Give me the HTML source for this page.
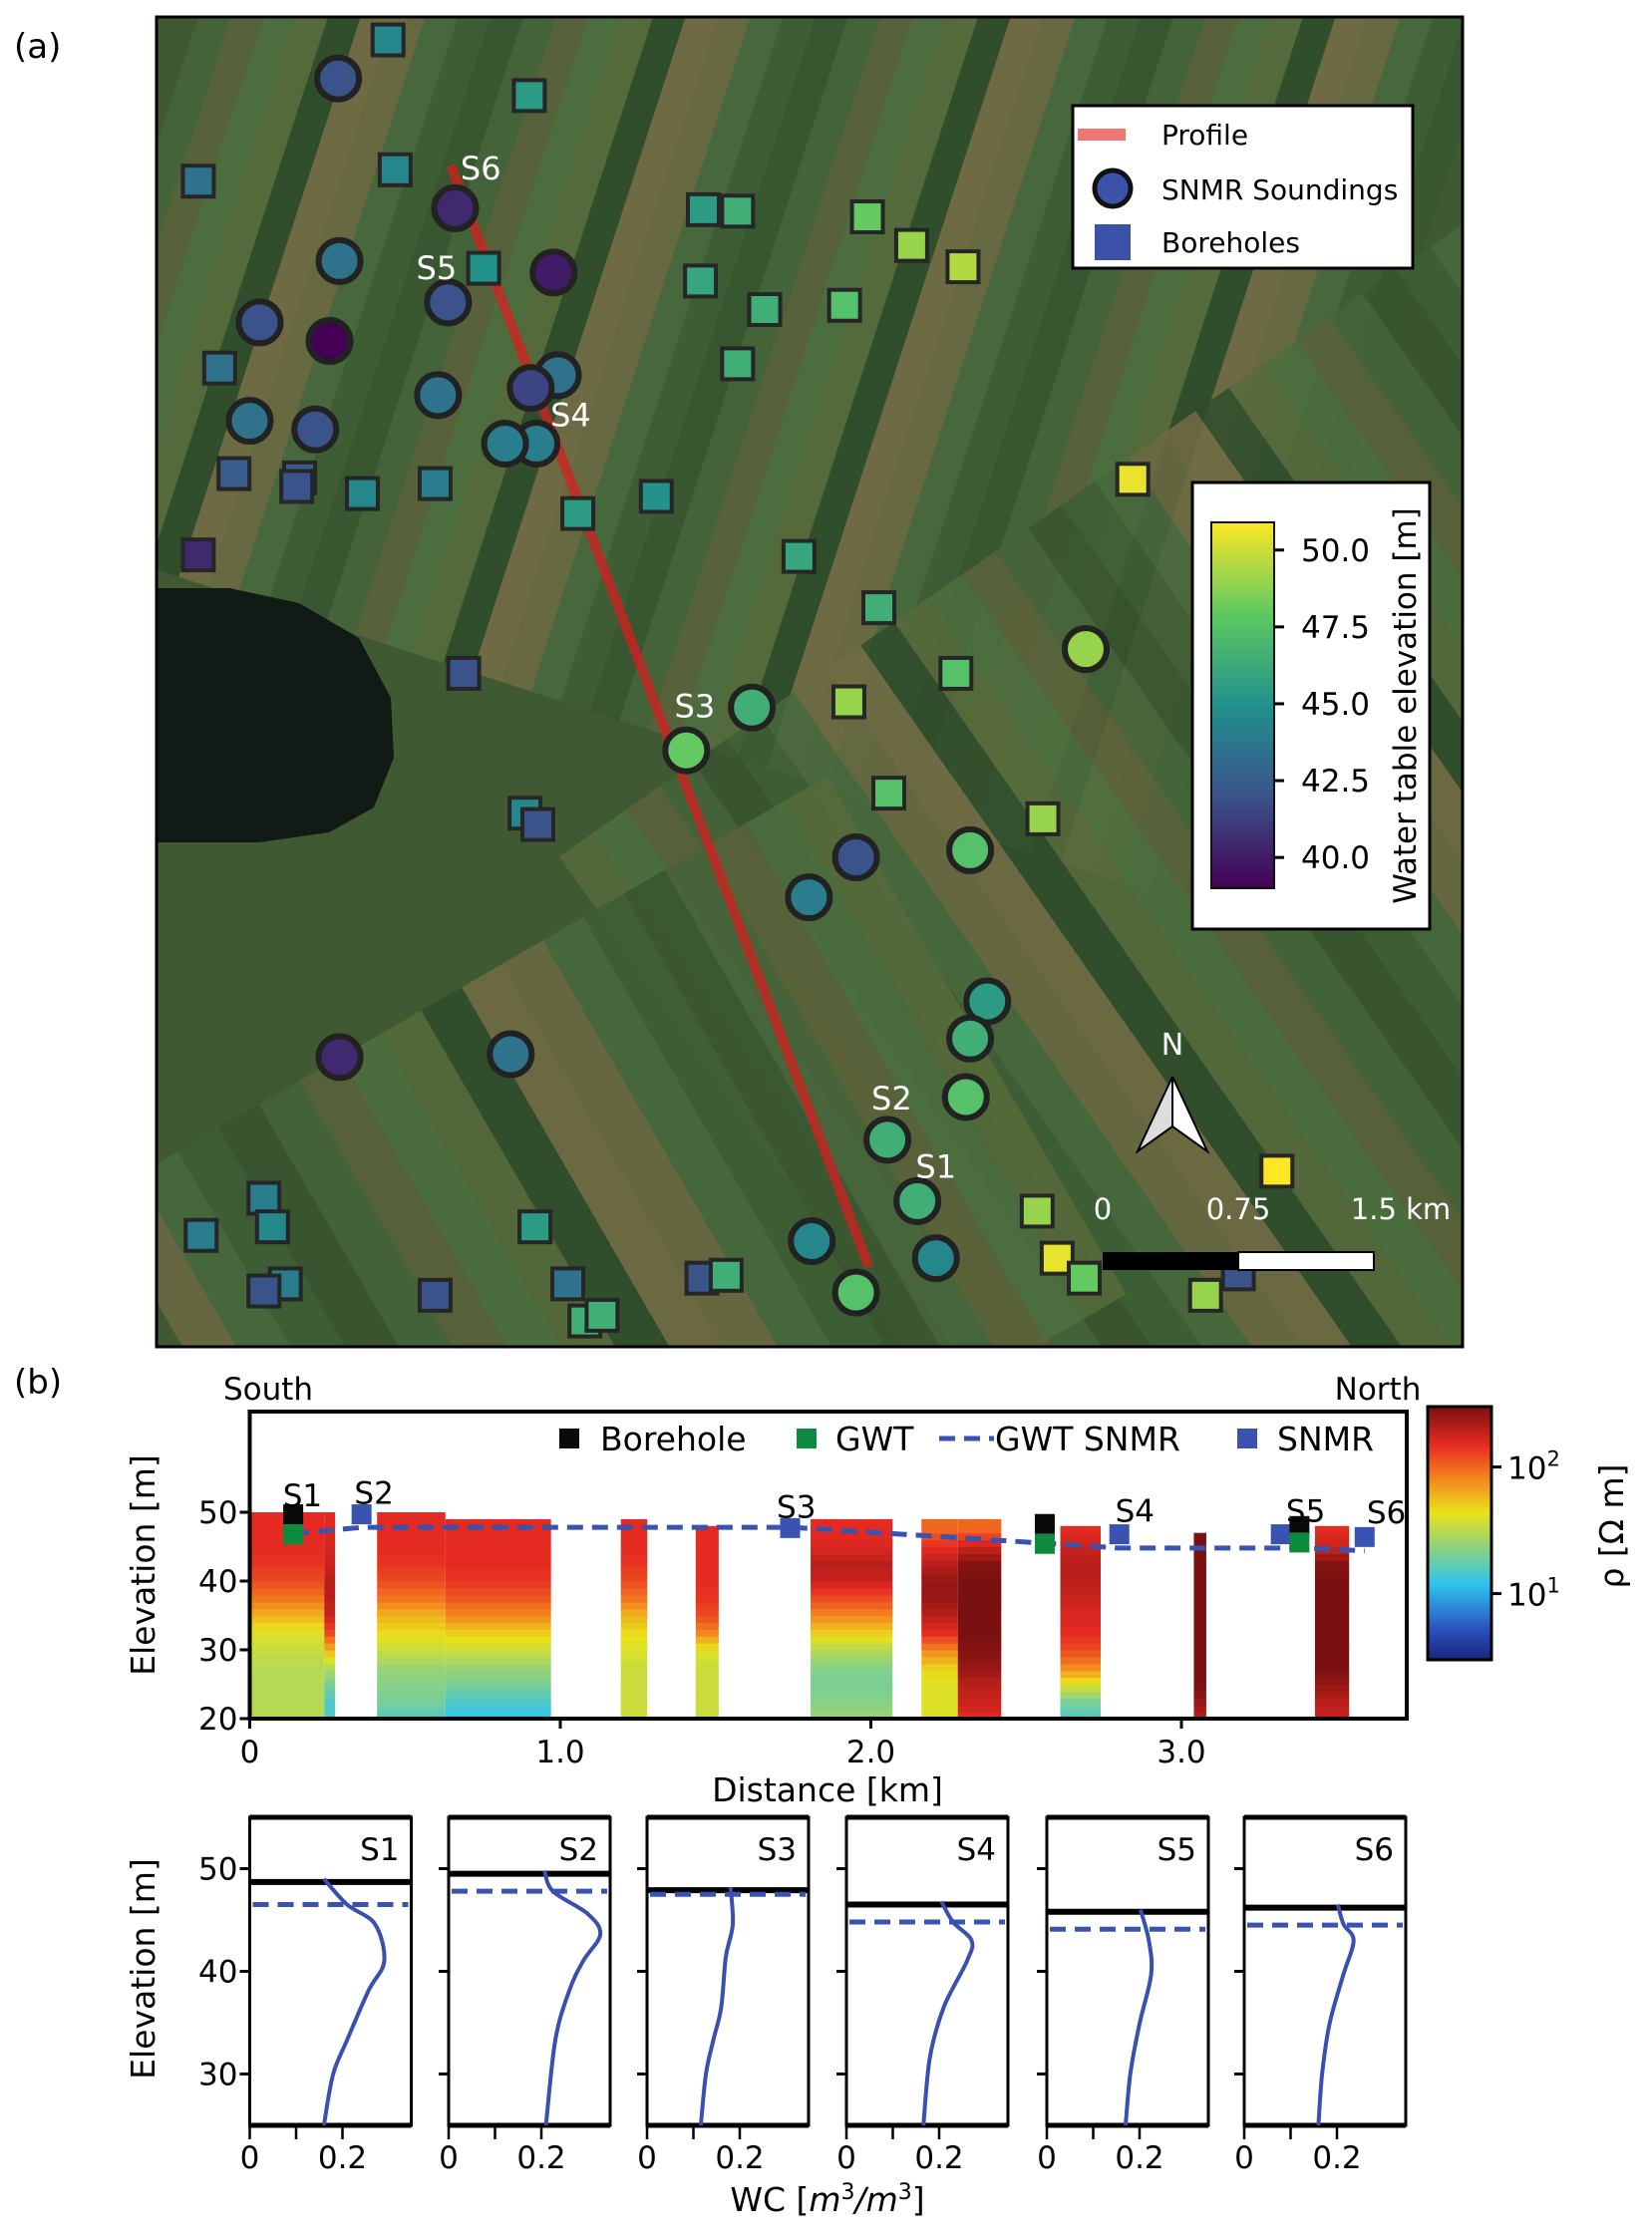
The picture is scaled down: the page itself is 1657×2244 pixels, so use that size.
<!DOCTYPE html>
<html><head><meta charset="utf-8"><style>
html,body{margin:0;padding:0;background:#fff;}
svg{display:block;font-family:"DejaVu Sans","Liberation Sans",sans-serif;}
</style></head><body>
<svg id="fig" width="1657" height="2244" viewBox="0 0 1657 2244" xmlns="http://www.w3.org/2000/svg">
<defs>
<clipPath id="mapclip"><rect x="157" y="17" width="1310" height="1334"/></clipPath>
<linearGradient id="viridisGrad" x1="0" y1="1" x2="0" y2="0">
<stop offset="0" stop-color="#440154"/><stop offset="0.25" stop-color="#3b528b"/><stop offset="0.5" stop-color="#21918c"/><stop offset="0.75" stop-color="#5ec962"/><stop offset="1" stop-color="#fde725"/>
</linearGradient>
<linearGradient id="jetGrad" x1="0" y1="1" x2="0" y2="0">
<stop offset="0" stop-color="#1a237e"/><stop offset="0.12" stop-color="#2a52be"/><stop offset="0.3" stop-color="#2ec4ee"/><stop offset="0.42" stop-color="#7fcf90"/><stop offset="0.58" stop-color="#e8e21a"/><stop offset="0.72" stop-color="#f5821f"/><stop offset="0.85" stop-color="#e52a22"/><stop offset="1" stop-color="#7a1010"/>
</linearGradient>
</defs>
<text x="14" y="58" font-size="34">(a)</text>
<g id="map" clip-path="url(#mapclip)"></g>
<rect x="157" y="17" width="1310" height="1334" fill="none" stroke="#000" stroke-width="3"/>
<g id="mapoverlay"></g>
<text x="14" y="1398" font-size="34">(b)</text>
<g id="sect"></g>
<g id="profiles"></g>
</svg>
<script>
const NS="http://www.w3.org/2000/svg";
function mk(tag,attrs,parent,txt){const e=document.createElementNS(NS,tag);for(const k in attrs)e.setAttribute(k,attrs[k]);if(txt!==undefined)e.textContent=txt;parent.appendChild(e);return e;}

// ---------- MAP DATA (map coordinates in figure units) ----------
const circleE=[237,319,238,388,314,182,231,307,391,372,175,221,376,354,527,481,761,600,567,680,692,680,677,622,643,569,656,600,238,358];
const circleN=[55,146,183,191,212,226,239,277,263,272,295,301,311,311,496,526,455,601,629,596,702,728,769,799,842,870,882,906,741,739];
const circleWT=[42,40.5,43.5,40,42,42,39,43.5,43.5,41.5,43.5,42,44,44,46.5,48,49,42,44,47.5,45.5,46.5,47.5,46.5,46.5,44.5,44.5,47.5,40.5,43.5];
const squareE=[272,371,139,277,493,517,608,639,675,491,536,592,517,154,339,164,210,208,254,305,405,460,560,794,139,616,670,595,325,623,731,368,377,185,191,141,375,200,185,305,398,492,509,410,422,727,895,741,760,845,868];
const squareN=[28,67,127,119,147,148,152,172,187,197,217,214,255,258,188,332,335,341,346,339,360,348,390,336,389,426,472,492,472,556,574,570,578,840,860,866,860,900,905,908,900,896,894,926,922,849,821,882,896,908,893];
const squareWT=[44.5,45.5,43.5,44.5,45.5,46.5,48,49,49.5,46,46.5,47.5,46.5,43.5,45,42.5,42.5,42,44.5,44,45.5,45,46,50.5,40.5,46.5,47.5,49,42,47.5,49,44.5,42,44,44.5,44,45.5,44,42,42,43.5,42,46.5,46.5,46.5,49,51,50.5,48,49,42];
const profileE=[316,609], profileN=[116,888];
const soundLabels=["S6","S5","S4","S3","S2","S1"];
const soundLabelE=[337,306,400,487,625,656];
const soundLabelN=[118,188,291,495,770,818];
const wtTicks=[40.0,42.5,45.0,47.5,50.0];
const wtMin=39.0, wtMax=50.9;

const K=1.431;
function mx(e){return e*K;}
function my(n){return n*K;}
function hex2(c){return [parseInt(c.substr(1,2),16),parseInt(c.substr(3,2),16),parseInt(c.substr(5,2),16)];}
function interp(stops,t){t=Math.max(0,Math.min(1,t));for(let i=0;i<stops.length-1;i++){const a=stops[i],b=stops[i+1];if(t<=b[0]){const f=(t-a[0])/(b[0]-a[0]);const ca=hex2(a[1]),cb=hex2(b[1]);return "rgb("+ca.map((v,j)=>Math.round(v+(cb[j]-v)*f)).join(",")+")";}}return stops[stops.length-1][1];}
const VIR=[[0,"#440154"],[0.25,"#3b528b"],[0.5,"#21918c"],[0.75,"#5ec962"],[1,"#fde725"]];
const JET=[[0,"#1a237e"],[0.12,"#2a52be"],[0.3,"#2ec4ee"],[0.42,"#7fcf90"],[0.58,"#e8e21a"],[0.72,"#f5821f"],[0.85,"#e52a22"],[1,"#7a1010"]];
function vir(v){return interp(VIR,(v-wtMin)/(wtMax-wtMin));}

// background
const map=document.getElementById('map');
mk('rect',{x:157,y:17,width:1310,height:1334,fill:'#3f5a33'},map);
const pal=['#45643a','#576b3c','#6b6a42','#37552f','#4e7040','#736c45','#3d5e35','#5a633b','#2f4c2b','#48683e'];
let g1=mk('g',{transform:'rotate(18 600 400)'},map);
for(let i=0;i<40;i++){mk('rect',{x:100+i*31,y:-300,width:31,height:1000,fill:pal[(i*7)%pal.length],opacity:0.9},g1);}
let g2=mk('g',{transform:'rotate(-35 1200 900)'},map);
for(let i=0;i<30;i++){mk('rect',{x:700+i*41,y:500,width:41,height:1100,fill:pal[(i*3+1)%pal.length],opacity:0.85},g2);}
let g3=mk('g',{transform:'rotate(-30 500 1200)'},map);
for(let i=0;i<18;i++){mk('rect',{x:150+i*47,y:1000,width:47,height:600,fill:pal[(i*7+2)%pal.length],opacity:0.85},g3);}
mk('polygon',{points:'157,590 230,590 300,605 360,640 392,700 395,760 375,810 330,835 260,845 157,845',fill:'#121a15'},map);

const ov=document.getElementById('mapoverlay');
const pl=mk('line',{x1:mx(profileE[0]),y1:my(profileN[0]),x2:mx(profileE[1]),y2:my(profileN[1]),stroke:'#d42020','stroke-width':10,opacity:0.75},ov);

for(let i=0;i<squareE.length;i++){const s=31;const r=mk('rect',{x:mx(squareE[i])-s/2,y:my(squareN[i])-s/2,width:s,height:s,fill:vir(squareWT[i]),stroke:'#262626','stroke-width':4},ov);

}
for(let i=0;i<circleE.length;i++){const c=mk('circle',{cx:mx(circleE[i]),cy:my(circleN[i]),r:21,fill:vir(circleWT[i]),stroke:'#222','stroke-width':6},ov);

}
for(let i=0;i<soundLabels.length;i++){const t=mk('text',{x:mx(soundLabelE[i]),y:my(soundLabelN[i])+11,'font-size':32,fill:'#fff','text-anchor':'middle'},ov,soundLabels[i]);

}
// legend
const lg=mk('g',{},ov);
mk('rect',{x:1076,y:106,width:341,height:163,fill:'#fff',stroke:'#000','stroke-width':3},lg);
mk('rect',{x:1081,y:129,width:48,height:12,fill:'#f07575'},lg);
mk('text',{x:1165,y:145,'font-size':28},lg,'Profile');
mk('circle',{cx:1116,cy:189,r:18,fill:'#3b52a8',stroke:'#111','stroke-width':5},lg);
mk('text',{x:1165,y:200,'font-size':28},lg,'SNMR Soundings');
mk('rect',{x:1098,y:225,width:36,height:36,fill:'#3b52a8'},lg);
mk('text',{x:1165,y:253,'font-size':28},lg,'Boreholes');
// colorbar
const cb=mk('g',{},ov);
mk('rect',{x:1196,y:484,width:238,height:448,fill:'#fff',stroke:'#000','stroke-width':3},cb);
const cbTop=524,cbBot=891;
mk('rect',{x:1215,y:cbTop,width:63,height:cbBot-cbTop,fill:'url(#viridisGrad)',stroke:'#111','stroke-width':2},cb);
function cy(v){return cbBot-(v-wtMin)/(wtMax-wtMin)*(cbBot-cbTop);}
wtTicks.forEach(v=>{mk('line',{x1:1278,y1:cy(v),x2:1288,y2:cy(v),stroke:'#000','stroke-width':3},cb);const t=mk('text',{x:1305,y:cy(v)+11,'font-size':31},cb,v.toFixed(1));});
mk('text',{x:1420,y:708,'font-size':31,transform:'rotate(-90 1420 708)','text-anchor':'middle'},cb,'Water table elevation [m]');
// north arrow & scale
const na=mk('g',{},ov);
mk('polygon',{points:'1176,1080 1141,1155 1176,1130',fill:'#ddd',stroke:'#000','stroke-width':2},na);
mk('polygon',{points:'1176,1080 1211,1155 1176,1130',fill:'#fff',stroke:'#000','stroke-width':2},na);
mk('text',{x:1176,y:1058,'font-size':30,fill:'#fff','text-anchor':'middle'},na,'N');
const sb=mk('g',{},ov);
mk('rect',{x:1106,y:1256,width:136,height:18,fill:'#000'},sb);
mk('rect',{x:1242,y:1256,width:136,height:18,fill:'#fff',stroke:'#000','stroke-width':2},sb);
mk('text',{x:1106,y:1223,'font-size':29,fill:'#fff','text-anchor':'middle'},sb,'0');
mk('text',{x:1242,y:1223,'font-size':29,fill:'#fff','text-anchor':'middle'},sb,'0.75');
mk('text',{x:1405,y:1223,'font-size':29,fill:'#fff','text-anchor':'middle'},sb,'1.5 km');

// ---------- SECTION DATA ----------
const blockStart=[0,0.24,0.41,0.63,1.195,1.436,1.806,2.163,2.28,2.61,3.04,3.43];
const blockEnd=[0.24,0.275,0.63,0.97,1.28,1.51,2.07,2.28,2.42,2.74,3.08,3.54];
const blockTop=[50,50,50,49,49,48,49,49,49,48,47,48];
const rhoLevels=[50,47.5,45,42.5,40,37.5,35,32.5,30,27.5,25,22.5,20];
const rhoProfiles=[
[150,150,150,140,120,90,60,40,35,30,30,30,30],
[150,160,170,180,200,200,180,120,60,30,20,15,15],
[150,150,150,140,120,90,60,45,35,25,22,20,15],
[150,150,150,150,140,110,80,50,35,25,20,15,12],
[150,150,150,140,120,90,60,45,40,35,35,35,35],
[150,150,150,150,150,140,120,80,40,35,35,35,35],
[150,150,160,200,180,120,80,50,30,22,20,22,25],
[100,100,150,200,250,250,200,150,80,50,40,40,40],
[100,100,180,280,300,300,300,300,280,250,200,180,150],
[100,150,180,200,200,180,160,150,120,80,40,20,15],
[150,300,300,300,300,300,300,300,300,300,300,250,200],
[100,150,180,280,300,300,300,300,300,300,250,200,180]];
const boreholeDist=[0.14,2.56,3.38], boreholeElev=[49.7,48.3,48.0];
const gwtDist=[0.14,2.56,3.38], gwtElev=[46.8,45.4,45.6];
const snmrDist=[0.36,1.74,2.8,3.32,3.59], snmrElev=[49.7,47.7,46.8,46.8,46.4];
const gwtSnmrDist=[0.14,0.36,1.75,2.56,2.8,3.4,3.59];
const gwtSnmrElev=[46.9,47.8,47.8,45.5,44.8,44.8,44.4];
const secLabels=["S1","S2","S3","S4","S5","S6"];
const secLabelDist=[0.17,0.4,1.76,2.85,3.4,3.66];
const secLabelElev=[52.5,52.8,50.8,50.2,50.2,50];
const xTicks=[0,1,2,3], xTickLabels=["0","1.0","2.0","3.0"];
const yTicks=[20,30,40,50];
const rhoTicks=[10,100];

const X0=250.5,XS=311.5,Y0=1724,YS=6.9,AXT=1416,AXR=1411;
function xB(d){return X0+d*XS;}
function yB(e){return Y0-(e-20)*YS;}
function rhoT(r){return (Math.log10(r)-Math.log10(3))/2;}
const sect=document.getElementById('sect');
const hm=mk('g',{},sect);
for(let b=0;b<blockStart.length;b++){
  for(let e=20;e<blockTop[b];e+=1){
    const ec=e+0.5;let k=0;while(k<rhoLevels.length-1&&rhoLevels[k+1]>ec)k++;
    const k2=Math.min(k+1,rhoLevels.length-1);const f=k2===k?0:(rhoLevels[k]-ec)/(rhoLevels[k]-rhoLevels[k2]);
    const lr=Math.log10(rhoProfiles[b][k])*(1-f)+Math.log10(rhoProfiles[b][k2])*f;
    const top=Math.min(e+1,blockTop[b]);
    const r=mk('rect',{x:xB(blockStart[b]),y:yB(top),width:xB(blockEnd[b])-xB(blockStart[b]),height:yB(e)-yB(top)+0.6,fill:interp(JET,rhoT(Math.pow(10,lr)))},hm);
    
    
  }
}
mk('rect',{x:X0,y:AXT,width:AXR-X0,height:Y0-AXT,fill:'none',stroke:'#000','stroke-width':4},sect);
xTicks.forEach((v,i)=>{mk('line',{x1:xB(v),y1:Y0,x2:xB(v),y2:Y0+10,stroke:'#000','stroke-width':3},sect);const t=mk('text',{x:xB(v),y:Y0+44,'font-size':31,'text-anchor':'middle'},sect,xTickLabels[i]);});
yTicks.forEach(v=>{mk('line',{x1:X0-10,y1:yB(v),x2:X0,y2:yB(v),stroke:'#000','stroke-width':3},sect);const t=mk('text',{x:X0-12,y:yB(v)+11,'font-size':31,'text-anchor':'end'},sect,String(v));});
mk('text',{x:830,y:1807,'font-size':33,'text-anchor':'middle',},sect,'Distance [km]');
mk('text',{x:155,y:1570,'font-size':33,'text-anchor':'middle',transform:'rotate(-90 155 1570)',},sect,'Elevation [m]');
mk('text',{x:269,y:1404,'font-size':31,'text-anchor':'middle'},sect,'South');
mk('text',{x:1382,y:1404,'font-size':31,'text-anchor':'middle'},sect,'North');
let pts=gwtSnmrDist.map((d,i)=>xB(d)+','+yB(gwtSnmrElev[i])).join(' ');
const gl=mk('polyline',{points:pts,fill:'none',stroke:'#3a52b0','stroke-width':5,'stroke-dasharray':'16 9'},sect);

function sq(d,e,c,name){const r=mk('rect',{x:xB(d)-10,y:yB(e)-10,width:20,height:20,fill:c},sect);}
snmrDist.forEach((d,i)=>sq(d,snmrElev[i],'#3a52b0','snmr-marker'));
boreholeDist.forEach((d,i)=>sq(d,boreholeElev[i],'#0a0a0a','borehole-marker'));
gwtDist.forEach((d,i)=>sq(d,gwtElev[i],'#0d8a3e','gwt-marker'));
secLabels.forEach((s,i)=>{const t=mk('text',{x:xB(secLabelDist[i]),y:yB(secLabelElev[i])+11,'font-size':31,'text-anchor':'middle'},sect,s);});
const lb=mk('g',{},sect);
mk('rect',{x:561,y:1433,width:20,height:20,fill:'#0a0a0a'},lb);mk('text',{x:602,y:1455,'font-size':33},lb,'Borehole');
mk('rect',{x:799,y:1433,width:20,height:20,fill:'#0d8a3e'},lb);mk('text',{x:838,y:1455,'font-size':33},lb,'GWT');
mk('line',{x1:942,y1:1443,x2:997,y2:1443,stroke:'#3a52b0','stroke-width':5,'stroke-dasharray':'16 9'},lb);mk('text',{x:998,y:1455,'font-size':33},lb,'GWT SNMR');
mk('rect',{x:1241,y:1433,width:20,height:20,fill:'#3a52b0'},lb);mk('text',{x:1281,y:1455,'font-size':33},lb,'SNMR');
const rc=mk('g',{},sect);
const RT=1411,RB=1665;
mk('rect',{x:1432,y:RT,width:64,height:RB-RT,fill:'url(#jetGrad)',stroke:'#000','stroke-width':3},rc);
function ry(r){return RB-rhoT(r)*(RB-RT);}
rhoTicks.forEach(r=>{mk('line',{x1:1496,y1:ry(r),x2:1506,y2:ry(r),stroke:'#000','stroke-width':3},rc);const t=mk('text',{x:1512,y:ry(r)+12,'font-size':31},rc,'10');mk('tspan',{dy:-13,'font-size':21},t,String(Math.round(Math.log10(r))));});
mk('text',{x:1628,y:1531,'font-size':33,'text-anchor':'middle',transform:'rotate(-90 1628 1531)'},rc,'ρ [Ω m]');

// ---------- PROFILES DATA ----------
const panelNames=["S1","S2","S3","S4","S5","S6"];
const boreLevel=[48.7,49.5,47.9,46.5,45.8,46.2];
const gwtSnmrLevel=[46.5,47.8,47.5,44.8,44.1,44.5];
const wcElev=[
[49,46.5,44.6,41,38.1,33.3,30,25],
[49.8,47.8,45.6,43.6,41,38.1,33.3,25],
[48.2,44.6,41.4,36.5,33.3,30,25],
[46.8,44.8,43,41,36.5,31.6,25],
[46,43,39.7,34.9,30,25],
[46.5,44.6,43,39.7,34.9,30,25]];
const wcVal=[
[0.16,0.21,0.27,0.29,0.256,0.21,0.18,0.16],
[0.207,0.225,0.30,0.327,0.29,0.26,0.23,0.21],
[0.18,0.185,0.17,0.16,0.143,0.127,0.116],
[0.205,0.23,0.27,0.26,0.21,0.18,0.166],
[0.202,0.22,0.225,0.20,0.18,0.17],
[0.202,0.214,0.236,0.214,0.184,0.168,0.16]];
const wcTicks=[0,0.1,0.2];
const elTicks=[30,40,50];
const panelLeft=[250.5,450,649,849,1050,1248];
const PW=162,PT=1823,PB=2132;
function yP(e){return PB-(e-25)*10.3;}
function xP(i,w){return panelLeft[i]+w*465;}
function smoothPath(P){let d='M'+P[0][0].toFixed(1)+','+P[0][1].toFixed(1);for(let i=0;i<P.length-1;i++){const p0=P[Math.max(0,i-1)],p1=P[i],p2=P[i+1],p3=P[Math.min(P.length-1,i+2)];const c1=[p1[0]+(p2[0]-p0[0])/6,p1[1]+(p2[1]-p0[1])/6],c2=[p2[0]-(p3[0]-p1[0])/6,p2[1]-(p3[1]-p1[1])/6];d+=' C'+c1.map(v=>v.toFixed(1)).join(',')+' '+c2.map(v=>v.toFixed(1)).join(',')+' '+p2.map(v=>v.toFixed(1)).join(',');}return d;}
const prof=document.getElementById('profiles');
panelNames.forEach((nm,i)=>{
  const g=mk('g',{},prof);
  mk('rect',{x:panelLeft[i],y:PT,width:PW,height:PB-PT,fill:'#fff',stroke:'#000','stroke-width':3},g);
  mk('line',{x1:panelLeft[i],y1:PT,x2:panelLeft[i]+PW,y2:PT,stroke:'#000','stroke-width':5},g);
  mk('line',{x1:panelLeft[i],y1:PB,x2:panelLeft[i]+PW,y2:PB,stroke:'#000','stroke-width':5},g);
  mk('text',{x:panelLeft[i]+PW-12,y:1866,'font-size':31,'text-anchor':'end'},g,nm);
  const bl=mk('line',{x1:panelLeft[i],y1:yP(boreLevel[i]),x2:panelLeft[i]+PW,y2:yP(boreLevel[i]),stroke:'#000','stroke-width':6},g);
  
  const dl=mk('line',{x1:panelLeft[i]+3,y1:yP(gwtSnmrLevel[i]),x2:panelLeft[i]+PW-3,y2:yP(gwtSnmrLevel[i]),stroke:'#3a52b0','stroke-width':5,'stroke-dasharray':'16 9'},g);
  
  const P=wcElev[i].map((e,j)=>[xP(i,wcVal[i][j]),yP(e)]);
  const c=mk('path',{d:smoothPath(P),fill:'none',stroke:'#3a4fb0','stroke-width':4,'stroke-linejoin':'round'},g);
  
  wcTicks.forEach(w=>{mk('line',{x1:xP(i,w),y1:PB,x2:xP(i,w),y2:PB+14,stroke:'#000','stroke-width':2.5},g);});
  [0,0.2].forEach(w=>{mk('text',{x:xP(i,w),y:2175,'font-size':31,'text-anchor':'middle'},g,w===0?'0':'0.2');});
  elTicks.forEach(e=>{mk('line',{x1:panelLeft[i]-10,y1:yP(e),x2:panelLeft[i],y2:yP(e),stroke:'#000','stroke-width':3},g);
    if(i===0){mk('text',{x:panelLeft[i]-12,y:yP(e)+11,'font-size':31,'text-anchor':'end'},g,String(e));}});
});
mk('text',{x:155,y:1975,'font-size':33,'text-anchor':'middle',transform:'rotate(-90 155 1975)',},prof,'Elevation [m]');
const wl=mk('text',{x:830,y:2218,'font-size':33,'text-anchor':'middle',},prof,'WC [');
mk('tspan',{'font-style':'italic'},wl,'m');mk('tspan',{dy:-12,'font-size':22},wl,'3');mk('tspan',{dy:12,'font-style':'italic'},wl,'/m');mk('tspan',{dy:-12,'font-size':22},wl,'3');mk('tspan',{dy:12},wl,']');
</script>
</body></html>
